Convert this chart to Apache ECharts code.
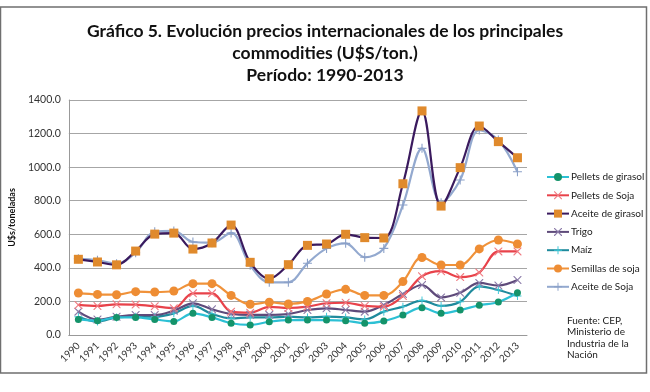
<!DOCTYPE html>
<html><head><meta charset="utf-8">
<script src="https://cdn.jsdelivr.net/npm/echarts@6/dist/echarts.min.js"></script>
<style>html,body{margin:0;padding:0;background:#fff}#c{width:650px;height:392px}</style>
</head><body><div id="c"></div>
<script>
const years = ['1990','1991','1992','1993','1994','1995','1996','1997','1998','1999','2000','2001','2002','2003','2004','2005','2006','2007','2008','2009','2010','2011','2012','2013'];
const pelletsGirasol = [93,85,105,105,93,81,129,105,70,60,79,89,89,89,85,70,83,119,163,129,149,177,197,252];
const pelletsSoja = [179,173,183,181,171,159,248,248,139,133,167,161,169,189,192,173,169,232,350,380,345,372,498,498];
const aceiteGirasol = [451,435,418,500,601,607,512,548,655,433,335,419,534,542,600,580,578,901,1335,768,997,1245,1152,1056];
const trigo = [139,92,109,119,119,145,189,153,125,120,120,125,149,159,149,139,179,244,298,224,252,310,295,328];
const maiz = [109,80,105,109,109,129,173,125,99,105,105,109,105,109,105,93,139,169,205,173,198,290,268,232];
const semillasSoja = [250,242,240,258,256,262,306,306,236,183,195,185,200,244,272,236,236,318,462,417,417,513,566,542];
const aceiteSoja = [455,445,425,490,615,620,554,550,608,415,314,314,427,516,546,463,516,774,1112,788,923,1221,1162,973];
const yTicks = [0,200,400,600,800,1000,1200,1400];
const legendNames = ['Pellets de girasol','Pellets de Soja','Aceite de girasol','Trigo','Maíz','Semillas de soja','Aceite de Soja'];
const source = ['Fuente: CEP,','Ministerio de','Industria de la','Nación'];

const chart = echarts.init(document.getElementById('c'));
const F = 'Lato, "Open Sans", sans-serif';
function ser(name, data, color, symbol, symColor, size, z) {
  return {name, type:'line', data, smooth:0.35, z:z||2,
    lineStyle:{color, width:2.2},
    itemStyle:{color:symColor, borderWidth:0},
    symbol, symbolSize:size, showSymbol:true};
}
const xSym = 'path://M0,0L1,0L5,4L9,0L10,0L10,1L6,5L10,9L10,10L9,10L5,6L1,10L0,10L0,9L4,5L0,1Z';
const plusSym = 'path://M4.4,0L5.6,0L5.6,4.4L10,4.4L10,5.6L5.6,5.6L5.6,10L4.4,10L4.4,5.6L0,5.6L0,4.4L4.4,4.4Z';
chart.setOption({
  animation:false,
  backgroundColor:'#fff',
  title:{text:'Gráfico 5. Evolución precios internacionales de los principales\ncommodities (U$S/ton.)\nPeríodo: 1990-2013',
    left:'center', top:15, textStyle:{fontFamily:F, fontSize:17.5, fontWeight:'bold', color:'#111', lineHeight:22}},
  legend:{orient:'vertical', left:541, top:167, itemGap:8.3, itemWidth:22, itemHeight:10,
    data:legendNames, textStyle:{fontFamily:F, fontSize:10, color:'#222', padding:[0,0,0,-3]}},
  grid:{left:64, right:123, top:100, bottom:57},
  xAxis:{type:'category', data:years, boundaryGap:true,
    axisLine:{lineStyle:{color:'#999'}}, axisTick:{show:false},
    axisLabel:{rotate:45, fontFamily:F, fontSize:10, color:'#333', margin:9}},
  yAxis:{type:'value', min:0, max:1400, interval:200,
    name:'U$s/toneladas', nameLocation:'middle', nameGap:40, nameRotate:90,
    nameTextStyle:{fontFamily:F, fontSize:9, fontWeight:'bold', color:'#111'},
    axisLine:{show:true, lineStyle:{color:'#999'}}, axisTick:{show:false},
    splitLine:{lineStyle:{color:'#a6a6a6', width:1.2}},
    axisLabel:{fontFamily:F, fontSize:10.5, color:'#333', formatter:v=>yTicks.includes(v)?v.toFixed(1):''}},
  graphic:[
    {type:'rect', shape:{x:0.5,y:7,width:646,height:366}, style:{fill:'none', stroke:'#6f6f6f', lineWidth:1.5}, z:-1},
    {type:'text', left:567, top:315, style:{text:source.join('\n'), fontFamily:F, fontSize:10, lineHeight:11.5, fill:'#222'}}
  ],
  series:[
    ser('Maíz', maiz, '#1f8a9c', plusSym, '#3cc8d8', 8, 2),
    ser('Pellets de girasol', pelletsGirasol, '#2cc0d4', 'circle', '#14936a', 7, 3),
    ser('Trigo', trigo, '#5e4a7a', xSym, '#8a7aa8', 8, 2),
    ser('Pellets de Soja', pelletsSoja, '#e8424a', xSym, '#f07b82', 8, 2),
    ser('Semillas de soja', semillasSoja, '#f0923a', 'circle', '#ee8d34', 9, 3),
    ser('Aceite de Soja', aceiteSoja, '#93a9cf', plusSym, '#8aa0c8', 9, 2),
    ser('Aceite de girasol', aceiteGirasol, '#3a1a5e', 'rect', '#e08a2c', 9, 4)
  ]
});
</script></body></html>
